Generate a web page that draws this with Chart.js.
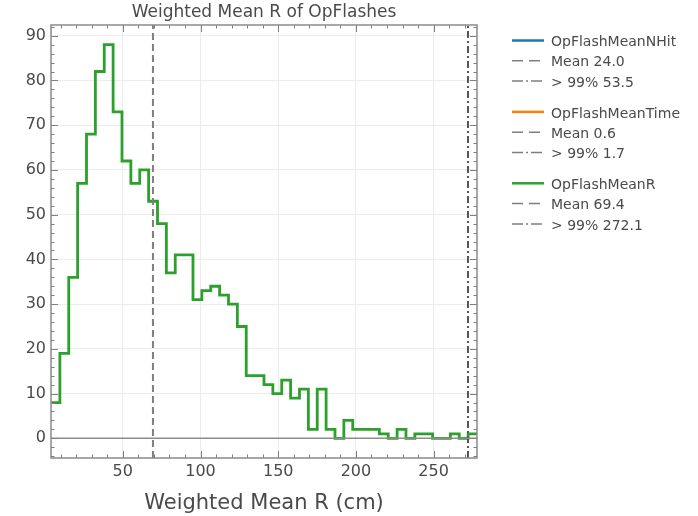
<!DOCTYPE html>
<html>
<head>
<meta charset="utf-8">
<script src="https://cdn.jsdelivr.net/npm/chart.js@4.4.1/dist/chart.umd.min.js"></script>
<style>
  html, body { margin: 0; padding: 0; background: #fff; }
</style>
</head>
<body>
<canvas id="chart" width="698" height="516"></canvas>
<script>
// histogram of the weighted mean R, 48 equal bins
const BIN_START = 3.8;
const BIN_WIDTH = 5.71;
const COUNTS = [8, 19, 36, 57, 68, 82, 88, 73, 62, 57, 60, 53, 48, 37, 41, 41,
  31, 33, 34, 32, 30, 25, 14, 14, 12, 10, 13, 9, 11, 2, 11, 2,
  0, 4, 2, 2, 2, 1, 0, 2, 0, 1, 1, 0, 0, 1, 0, 1];
const MEAN_R = 69.4;
const P99_R = 272.1;
const X_LIMITS = [3.8, 277.9];
const Y_LIMITS = [-4.4, 92.4];
const X_TICKS = [50, 100, 150, 200, 250];
const Y_TICKS = [0, 10, 20, 30, 40, 50, 60, 70, 80, 90];

const LEGEND_NAMES = ['OpFlashMeanNHit', 'OpFlashMeanTime', 'OpFlashMeanR'];
const LEGEND_COLORS = ['#1f77b4', '#ff7f0e', '#2ca02c'];
const LEGEND_MEANS = ['24.0', '0.6', '69.4'];
const LEGEND_P99 = ['53.5', '1.7', '272.1'];

const FONT = '"DejaVu Sans", sans-serif';
const GREY = '#7f7f7f';
const TEXT = '#4a4a4a';

// left edge of every bin, then one last point to close the final bin
const edges = COUNTS.map((_, i) => BIN_START + i * BIN_WIDTH);
const stepPoints = COUNTS.map((c, i) => ({ x: edges[i], y: c }));
stepPoints.push({ x: BIN_START + COUNTS.length * BIN_WIDTH, y: COUNTS[COUNTS.length - 1] });

const decorations = {
  id: 'decorations',
  afterDraw(chart) {
    const { ctx, chartArea: a, scales: { x, y } } = chart;
    ctx.save();

    // inward ticks on all four sides
    ctx.strokeStyle = GREY;
    ctx.lineWidth = 1;
    const seg = (x1, y1, x2, y2) => {
      ctx.beginPath(); ctx.moveTo(x1, y1); ctx.lineTo(x2, y2); ctx.stroke();
    };
    for (let v = 10; v <= 270; v += 10) {
      const px = Math.round(x.getPixelForValue(v)) + 0.5;
      const len = v % 50 === 0 ? 7 : 3.5;
      seg(px, a.bottom, px, a.bottom - len);
      seg(px, a.top, px, a.top + len);
    }
    for (let v = -4; v <= 92; v += 2) {
      const py = Math.round(y.getPixelForValue(v)) + 0.5;
      const len = v % 10 === 0 ? 7 : 3.5;
      seg(a.left, py, a.left + len, py);
      seg(a.right, py, a.right - len, py);
    }

    // frame
    ctx.lineWidth = 1.5;
    ctx.strokeStyle = '#8a8a8a';
    ctx.strokeRect(a.left, a.top, a.right - a.left, a.bottom - a.top);

    // title over the plot
    ctx.fillStyle = TEXT;
    ctx.font = '17px ' + FONT;
    ctx.textAlign = 'center';
    ctx.textBaseline = 'middle';
    ctx.fillText('Weighted Mean R of OpFlashes', (a.left + a.right) / 2, 13);

    // legend outside on the right
    const lx = a.right + 35;
    const rowH = 20.3;
    const groupH = rowH * 3 + 10.5;
    ctx.font = '14px ' + FONT;
    ctx.textAlign = 'left';
    LEGEND_NAMES.forEach((name, g) => {
      const y0 = a.top + 17.5 + g * groupH;
      const rows = [
        { text: name, color: LEGEND_COLORS[g], dash: [], width: 2.5 },
        { text: 'Mean ' + LEGEND_MEANS[g], color: GREY, dash: [11, 6], width: 1.5 },
        { text: '> 99% ' + LEGEND_P99[g], color: GREY, dash: [11, 3, 2, 3], width: 1.5 }
      ];
      rows.forEach((r, i) => {
        const ry = y0 + i * rowH;
        ctx.strokeStyle = r.color;
        ctx.lineWidth = r.width;
        ctx.setLineDash(r.dash);
        seg(lx, ry - 2, lx + 32, ry - 2);
        ctx.setLineDash([]);
        ctx.fillStyle = TEXT;
        ctx.fillText(r.text, lx + 39, ry);
      });
    });
    ctx.restore();
  }
};

new Chart(document.getElementById('chart'), {
  type: 'line',
  data: {
    datasets: [
      {
        label: 'zero',
        data: [{ x: X_LIMITS[0], y: 0 }, { x: X_LIMITS[1], y: 0 }],
        borderColor: '#8c8c8c',
        borderWidth: 1.5,
        pointRadius: 0
      },
      {
        label: 'Mean',
        data: [{ x: MEAN_R, y: Y_LIMITS[0] }, { x: MEAN_R, y: Y_LIMITS[1] }],
        borderColor: GREY,
        borderWidth: 2,
        borderDash: [7, 4],
        pointRadius: 0
      },
      {
        label: '> 99%',
        data: [{ x: P99_R, y: Y_LIMITS[0] }, { x: P99_R, y: Y_LIMITS[1] }],
        borderColor: '#555',
        borderWidth: 2,
        borderDash: [7, 3, 2, 3],
        pointRadius: 0
      },
      {
        label: 'OpFlashMeanR',
        data: stepPoints,
        stepped: 'before',
        borderColor: '#2ca02c',
        borderWidth: 2.8,
        pointRadius: 0,
        fill: false
      }
    ]
  },
  options: {
    responsive: false,
    animation: false,
    events: [],
    layout: { padding: { left: 0, top: 25, right: 221, bottom: 0 } },
    plugins: {
      legend: { display: false },
      tooltip: { enabled: false },
      title: { display: false }
    },
    scales: {
      x: {
        type: 'linear',
        min: X_LIMITS[0],
        max: X_LIMITS[1],
        afterBuildTicks: (s) => { s.ticks = X_TICKS.map((v) => ({ value: v })); },
        afterFit: (s) => { s.height = 58; },
        grid: { color: '#ececec', lineWidth: 1, drawTicks: false },
        border: { display: false },
        ticks: { color: TEXT, font: { family: FONT, size: 16 }, padding: 4, maxRotation: 0 },
        title: {
          display: true,
          text: 'Weighted Mean R (cm)',
          color: TEXT,
          font: { family: FONT, size: 21 },
          padding: { top: 0, bottom: 0 }
        }
      },
      y: {
        type: 'linear',
        min: Y_LIMITS[0],
        max: Y_LIMITS[1],
        afterBuildTicks: (s) => { s.ticks = Y_TICKS.map((v) => ({ value: v })); },
        afterFit: (s) => { s.width = 51; },
        grid: { color: '#ececec', lineWidth: 1, drawTicks: false },
        border: { display: false },
        ticks: { color: TEXT, font: { family: FONT, size: 16 }, padding: 5 }
      }
    }
  },
  plugins: [decorations]
});
</script>
</body>
</html>
